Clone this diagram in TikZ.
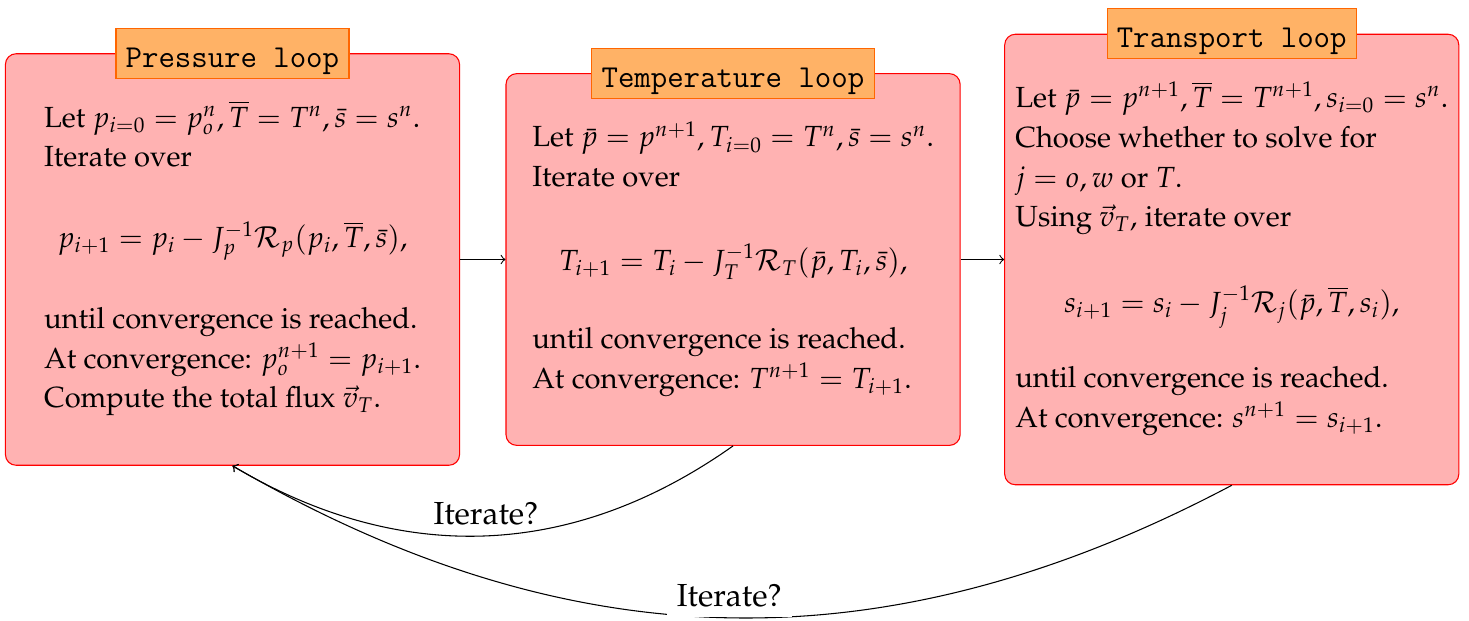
\documentclass[tikz,border=0pt,11pt]{standalone}
\usepackage[T1]{fontenc}
\usepackage{mathpazo}
\usetikzlibrary{positioning}
\linespread{1.1}
\newcommand{\titlett}{\fontencoding{OT1}\fontfamily{cmtt}\selectfont}

\begin{document}
\begin{tikzpicture}[
        loopbox/.style={rectangle, draw=red, fill=red!30, rounded corners, minimum width=6cm, inner xsep=4pt, inner ysep=6mm},
        looptitle/.style={rectangle, draw=orange!80!red, fill=orange!60, inner ysep=2pt, text height=12.7pt, text depth=2.1pt, font=\large\titlett},
        arrow/.style={->},
        question/.style={above, font=\large}
    ]
        \useasboundingbox (-3.072,3.429) rectangle (16.338,-4.776);

        \node[loopbox] (press) at (0,0) {\begin{tabular}{@{}l@{}}
            Let $p_{i=0} = p_o^n, \overline{T} = T^n, \bar{s} = s^n$.\\
            Iterate over\\[15.4pt]
            \multicolumn{1}{@{}c@{}}{$p_{i+1} = p_i - J_p^{-1}\mathcal{R}_p(p_i,\overline{T},\bar{s}),$}\\[15.4pt]
            until convergence is reached.\\
            At convergence: $p_o^{n+1} = p_{i+1}$.\\
            Compute the total flux $\vec{v}_T$.
        \end{tabular}};
        \node[loopbox, right=6mm of press] (temp) {\begin{tabular}{@{}l@{}}
            Let $\bar{p} = p^{n+1}, T_{i=0} = T^n, \bar{s} = s^n$.\\
            Iterate over\\[16.5pt]
            \multicolumn{1}{@{}c@{}}{$T_{i+1} = T_i - J_T^{-1}\mathcal{R}_T(\bar{p},T_i,\bar{s}),$}\\[14.3pt]
            until convergence is reached.\\
            At convergence: $T^{n+1} = T_{i+1}$.
        \end{tabular}};
        \node[loopbox, right=5.75mm of temp] (trans) {\begin{tabular}{@{}l@{}}
            Let $\bar{p} = p^{n+1}, \overline{T} = T^{n+1}, s_{i=0} = s^n$.\\
            Choose whether to solve for\\
            $j = o, w$ or $T$.\\
            Using $\vec{v}_T$, iterate over\\[17.3pt]
            \multicolumn{1}{@{}c@{}}{$s_{i+1} = s_i - J_j^{-1}\mathcal{R}_j(\bar{p},\overline{T},s_i),$}\\[13.2pt]
            until convergence is reached.\\
            At convergence: $s^{n+1} = s_{i+1}$.
        \end{tabular}};

        \node[looptitle] (presstitle) at (press.north) {Pressure loop};
        \node[looptitle] (temptitle) at (temp.north) {Temperature loop};
        \node[looptitle] (transtitle) at (trans.north) {Transport loop};

        \draw[arrow] (press) -- (temp);
        \draw[arrow] (temp) -- (trans);
        \draw[arrow] (temp.south) to[bend left=33] node[question] {Iterate?} (press.south);
        \draw[arrow] (trans.south) to[bend left=29] node[question, fill=white] {Iterate?} (press.south);
    \end{tikzpicture}
\end{document}
